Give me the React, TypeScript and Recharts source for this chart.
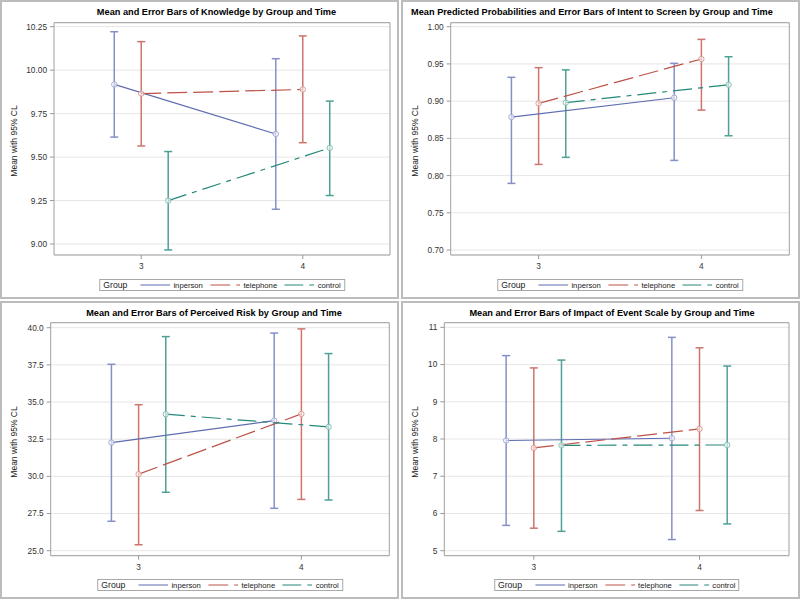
import {
  ComposedChart,
  Scatter,
  ErrorBar,
  XAxis,
  YAxis,
  CartesianGrid,
  ReferenceArea,
} from "recharts";

const groups = ["inperson", "telephone", "control"];
const times = [3, 4];
const groupOffsets = [-0.167, 0, 0.167];

// values per group: [time 3, time 4]
const knowledgeMean = [[9.918, 9.633], [9.865, 9.889], [9.25, 9.553]];
const knowledgeLower = [[9.615, 9.2], [9.564, 9.583], [8.966, 9.279]];
const knowledgeUpper = [[10.221, 10.066], [10.164, 10.197], [9.532, 9.822]];
const knowledgeTicks = [9.0, 9.25, 9.5, 9.75, 10.0, 10.25];

const intentMean = [[0.8786, 0.9046], [0.897, 0.9566], [0.898, 0.922]];
const intentLower = [[0.7895, 0.8204], [0.815, 0.888], [0.8245, 0.8535]];
const intentUpper = [[0.932, 0.9508], [0.945, 0.983], [0.942, 0.9597]];
const intentTicks = [0.7, 0.75, 0.8, 0.85, 0.9, 0.95, 1.0];

const riskMean = [[32.27, 33.75], [30.15, 34.2], [34.18, 33.33]];
const riskLower = [[26.98, 27.85], [25.4, 28.45], [28.93, 28.41]];
const riskUpper = [[37.54, 39.64], [34.82, 39.92], [39.4, 38.26]];
const riskTicks = [25.0, 27.5, 30.0, 32.5, 35.0, 37.5, 40.0];

const impactMean = [[7.96, 8.02], [7.76, 8.27], [7.83, 7.84]];
const impactLower = [[5.68, 5.3], [5.605, 6.08], [5.52, 5.72]];
const impactUpper = [[10.24, 10.73], [9.91, 10.45], [10.12, 9.96]];
const impactTicks = [5, 6, 7, 8, 9, 10, 11];

const lineColors = ["#5f6db0", "#bd5248", "#24887a"];
const barColors = ["#8590c6", "#cb756d", "#4fa095"];
const markerColors = ["#a3abd6", "#dc9c95", "#86beb6"];
const dashes = ["", "20 6", "19 6 5 6"];

const font = "'Liberation Sans', Arial, sans-serif";
const xDomain = [2.46, 4.54];

type PanelProps = {
  left: number;
  top: number;
  width: number;
  height: number;
  plot: { l: number; r: number; t: number; b: number };
  title: string;
  titleX: number;
  yDomain: number[];
  ticks: number[];
  decimals: number;
  mean: number[][];
  lower: number[][];
  upper: number[][];
};

function seriesData(mean: number[][], lower: number[][], upper: number[][], g: number) {
  return times.map((t, i) => ({
    x: t + groupOffsets[g],
    y: mean[g][i],
    err: [mean[g][i] - lower[g][i], upper[g][i] - mean[g][i]],
  }));
}

function Legend({ centerX, top }: { centerX: number; top: number }) {
  return (
    <div
      style={{
        position: "absolute",
        left: centerX,
        top,
        transform: "translateX(-50%)",
        height: 12,
        boxSizing: "border-box",
        border: "1px solid #a8a8a8",
        display: "flex",
        alignItems: "center",
        padding: "0 3px",
        whiteSpace: "nowrap",
        fontFamily: font,
        color: "#222",
      }}
    >
      <span style={{ fontSize: 8.7, marginRight: 13 }}>Group</span>
      {groups.map((g, i) => (
        <span key={g} style={{ display: "flex", alignItems: "center", marginLeft: i ? 7.5 : 0 }}>
          <svg width={30} height={8} style={{ display: "block" }}>
            <line
              x1={0}
              y1={4}
              x2={30}
              y2={4}
              stroke={lineColors[i]}
              strokeWidth={1.2}
              strokeDasharray={dashes[i] || undefined}
            />
          </svg>
          <span style={{ fontSize: 7.7, marginLeft: 3 }}>{g}</span>
        </span>
      ))}
    </div>
  );
}

function Panel(p: PanelProps) {
  const { l, r, t, b } = p.plot;
  const yw = 40;
  const xh = 20;
  const margin = { top: t, right: p.width - r, bottom: p.height - b - xh, left: l - yw };
  return (
    <div
      style={{
        position: "absolute",
        left: p.left,
        top: p.top,
        width: p.width,
        height: p.height,
        boxSizing: "border-box",
        border: "2px solid #bcbcbc",
        background: "#fff",
      }}
    >
      <div style={{ position: "absolute", left: -2, top: -2 }}>
        <ComposedChart width={p.width} height={p.height} margin={margin}>
          <CartesianGrid vertical={false} stroke="#e6e6e6" />
          <XAxis
            type="number"
            dataKey="x"
            domain={xDomain}
            ticks={times}
            allowDataOverflow
            height={xh}
            axisLine={false}
            tickLine={{ stroke: "#999" }}
            tickSize={4}
            tickMargin={4}
            tick={{ fill: "#333", fontSize: 8.3, fontFamily: font }}
          />
          <YAxis
            type="number"
            dataKey="y"
            domain={p.yDomain}
            ticks={p.ticks}
            allowDataOverflow
            width={yw}
            axisLine={false}
            tickLine={{ stroke: "#999" }}
            tickSize={4}
            tickMargin={3}
            tickFormatter={(v: number) => v.toFixed(p.decimals)}
            tick={{ fill: "#333", fontSize: 8.3, fontFamily: font }}
          />
          <ReferenceArea
            x1={xDomain[0]}
            x2={xDomain[1]}
            y1={p.yDomain[0]}
            y2={p.yDomain[1]}
            fill="none"
            stroke="#a0a0a0"
            strokeWidth={1}
            ifOverflow="visible"
          />
          {groups.map((g, i) => (
            <Scatter
              key={g}
              name={g}
              data={seriesData(p.mean, p.lower, p.upper, i)}
              fill={lineColors[i]}
              line={{
                stroke: lineColors[i],
                strokeWidth: 1.2,
                strokeDasharray: dashes[i] || undefined,
              }}
              lineType="joint"
              isAnimationActive={false}
              shape={(s: any) => (
                <circle cx={s.cx} cy={s.cy} r={2.7} fill="#fff" fillOpacity={0.6} stroke={markerColors[i]} strokeWidth={1} />
              )}
            >
              <ErrorBar
                dataKey="err"
                direction="y"
                width={4}
                stroke={barColors[i]}
                strokeWidth={1.5}
                isAnimationActive={false}
              />
            </Scatter>
          ))}
        </ComposedChart>
      </div>
      <div
        style={{
          position: "absolute",
          left: p.titleX - 2,
          top: 6 - 2,
          transform: "translateX(-50%)",
          whiteSpace: "nowrap",
          fontFamily: font,
          fontWeight: "bold",
          fontSize: 9.2,
          lineHeight: "12px",
          color: "#000",
        }}
      >
        {p.title}
      </div>
      <div
        style={{
          position: "absolute",
          left: 14 - 70 - 2,
          top: 141 - 6 - 2,
          width: 140,
          height: 12,
          lineHeight: "12px",
          textAlign: "center",
          transform: "rotate(-90deg)",
          fontFamily: font,
          fontSize: 8.5,
          color: "#222",
        }}
      >
        Mean with 95% CL
      </div>
      <div style={{ position: "absolute", left: -2, top: -2 }}>
        <Legend centerX={(l + r) / 2} top={p.height - 20} />
      </div>
    </div>
  );
}

export default function App() {
  return (
    <div style={{ position: "absolute", left: 0, top: 0, width: 800, height: 599, background: "#fff" }}>
      <Panel
        left={0}
        top={0}
        width={399}
        height={299}
        plot={{ l: 54, r: 390, t: 22.7, b: 255 }}
        title="Mean and Error Bars of Knowledge by Group and Time"
        titleX={216.5}
        yDomain={[8.937, 10.273]}
        ticks={knowledgeTicks}
        decimals={2}
        mean={knowledgeMean}
        lower={knowledgeLower}
        upper={knowledgeUpper}
      />
      <Panel
        left={401}
        top={0}
        width={399}
        height={299}
        plot={{ l: 49.7, r: 388.3, t: 22.7, b: 255 }}
        title="Mean Predicted Probabilities and Error Bars of Intent to Screen by Group and Time"
        titleX={191}
        yDomain={[0.6933, 1.0054]}
        ticks={intentTicks}
        decimals={2}
        mean={intentMean}
        lower={intentLower}
        upper={intentUpper}
      />
      <Panel
        left={0}
        top={301}
        width={399}
        height={298}
        plot={{ l: 50.7, r: 389.3, t: 21.7, b: 254.7 }}
        title="Mean and Error Bars of Perceived Risk by Group and Time"
        titleX={214}
        yDomain={[24.664, 40.336]}
        ticks={riskTicks}
        decimals={1}
        mean={riskMean}
        lower={riskLower}
        upper={riskUpper}
      />
      <Panel
        left={401}
        top={301}
        width={399}
        height={298}
        plot={{ l: 43.3, r: 388, t: 21.7, b: 254.7 }}
        title="Mean and Error Bars of Impact of Event Scale by Group and Time"
        titleX={211}
        yDomain={[4.866, 11.124]}
        ticks={impactTicks}
        decimals={0}
        mean={impactMean}
        lower={impactLower}
        upper={impactUpper}
      />
    </div>
  );
}
